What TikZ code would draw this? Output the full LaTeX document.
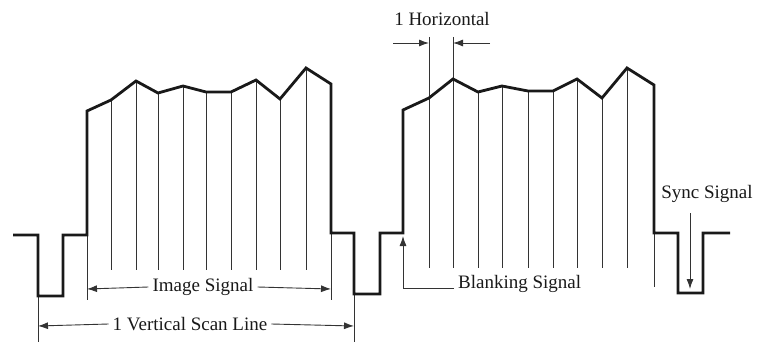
\documentclass[tikz,border=0pt]{standalone}
\usepackage{fontspec}
\setmainfont{Liberation Serif}
\usetikzlibrary{arrows.meta}
\begin{document}
\begin{tikzpicture}[x=1pt,y=-1pt,
  wave/.style={line width=2.8pt,line join=miter,black!90},
  thin/.style={line width=0.9pt,black!80},
  arr/.style={line width=0.9pt,black!80,-{Latex[length=10pt,width=7pt]}},
  lbl/.style={font=\fontsize{19}{22}\selectfont,inner sep=4pt,text=black!90}]
\useasboundingbox (0,0) rectangle (758,342);
% thin vertical lines (left burst)
\foreach \x/\y in {111/100,136/81,158/93,183/86,206/92,231/92,256/80,280/99,306/68}
  \draw[thin] (\x,\y) -- (\x,270);
% thin vertical lines (right burst)
\foreach \x/\y in {478/92,502/86,528/91,553/91,577/79,602/98,627/68}
  \draw[thin] (\x,\y) -- (\x,268);
\draw[thin] (429,37) -- (429,268);
\draw[thin] (453,37) -- (453,268);
% extension lines
\draw[thin] (87,235) -- (87,300);
\draw[thin] (331,233) -- (331,300);
\draw[thin] (38,296) -- (38,342);
\draw[thin] (354,294) -- (354,342);
\draw[thin] (654,233) -- (654,287);
% waveform
\draw[wave] (13,235) -- (38,235) -- (38,296) -- (63,296) -- (63,235) -- (87,235) -- (87,111)
  -- (111,100) -- (136,81) -- (158,93) -- (183,86) -- (206,92) -- (231,92) -- (256,80)
  -- (280,99) -- (306,68) -- (331,84) -- (331,233) -- (354,233) -- (354,294) -- (380,294)
  -- (380,233) -- (403,233) -- (403,110) -- (429,98) -- (453,79) -- (478,92) -- (502,86)
  -- (528,91) -- (553,91) -- (577,79) -- (602,98) -- (627,68) -- (654,85) -- (654,233)
  -- (678,233) -- (678,293) -- (703,293) -- (703,233) -- (730,233);
% coordinates for arrow ends
\coordinate (imgL) at (87,289);
\coordinate (imgR) at (331,289);
\coordinate (vsL) at (38,326);
\coordinate (vsR) at (354,326);
\coordinate (hzA) at (429,43);
\coordinate (hzB) at (453,43);
\coordinate (hzAs) at (393,43);
\coordinate (hzBs) at (490,43);
\coordinate (blkCorner) at (403,288);
\coordinate (blkTip) at (403,236);
\coordinate (syncS) at (690,213);
\coordinate (syncE) at (690,289);
% labels
\node[lbl] (img) at (203,287) {Image Signal};
\node[lbl] (vs) at (190,324) {1 Vertical Scan Line};
\node[lbl] (hz) at (442,19) {1 Horizontal};
\node[lbl,anchor=west] (blk) at (454,284) {Blanking Signal};
\node[lbl] (sync) at (707,194) {Sync Signal};
% arrows
\draw[arr] (img.west) -- (imgL);
\draw[arr] (img.east) -- (imgR);
\draw[arr] (vs.west) -- (vsL);
\draw[arr] (vs.east) -- (vsR);
\draw[arr] (hzAs) -- (hzA);
\draw[arr] (hzBs) -- (hzB);
\draw[arr] (blk.west |- blkCorner) -- (blkCorner) -- (blkTip);
\draw[arr] (syncS) -- (syncE);
\end{tikzpicture}
\end{document}
